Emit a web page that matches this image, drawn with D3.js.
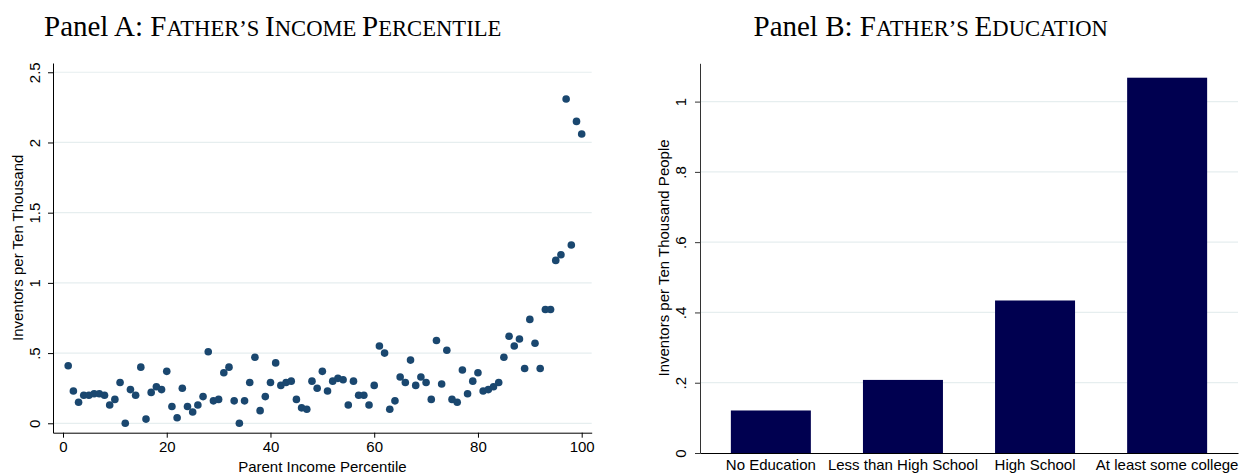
<!DOCTYPE html>
<html>
<head>
<meta charset="utf-8">
<script src="https://cdn.jsdelivr.net/npm/d3@7"></script>
<style>
  body { margin: 0; background: #fff; }
  text { font-family: "Liberation Sans", Arial, sans-serif; fill: #000; }
  .title { font-family: "Liberation Serif", "DejaVu Serif", serif; font-size: 29px; }
</style>
</head>
<body>
<div id="my_dataviz"></div>
<script>

// Panel A: inventors per ten thousand, by parent income percentile (1..100)
var percentiles = d3.range(1, 101);
var inventorRate = [
    0.41, 0.23, 0.15, 0.20, 0.20, 0.21, 0.21, 0.20, 0.13, 0.17,
    0.29, 0.00, 0.24, 0.20, 0.40, 0.03, 0.22, 0.26, 0.24, 0.37,
    0.12, 0.04, 0.25, 0.12, 0.08, 0.13, 0.19, 0.51, 0.16, 0.17,
    0.36, 0.40, 0.16, 0.00, 0.16, 0.29, 0.47, 0.09, 0.19, 0.29,
    0.43, 0.27, 0.29, 0.30, 0.17, 0.11, 0.10, 0.30, 0.25, 0.37,
    0.23, 0.30, 0.32, 0.31, 0.13, 0.30, 0.20, 0.20, 0.13, 0.27,
    0.55, 0.50, 0.10, 0.16, 0.33, 0.29, 0.45, 0.27, 0.33, 0.29,
    0.17, 0.59, 0.28, 0.52, 0.17, 0.15, 0.38, 0.21, 0.30, 0.36,
    0.23, 0.24, 0.26, 0.29, 0.47, 0.62, 0.55, 0.60, 0.39, 0.74,
    0.57, 0.39, 0.81, 0.81, 1.16, 1.20, 2.31, 1.27, 2.15, 2.06
];
var xTicksA = [0, 20, 40, 60, 80, 100];
var yTicksA = [0, 0.5, 1, 1.5, 2, 2.5];

// Panel B: inventors per ten thousand, by father's education
var eduCategories = ["No Education", "Less than High School", "High School", "At least some college"];
var eduRate = [0.121, 0.208, 0.434, 1.068];
var yTicksB = [0, 0.2, 0.4, 0.6, 0.8, 1];

// stata style numbers: .5 instead of 0.5
function stataFmt(d) {
    return d3.format("~g")(d).replace(/^0\./, ".");
}

// fake small caps: capitals full size, the rest upper-cased and shrunk
function smallCaps(textSel, str, size) {
    var runs = str.match(/[A-Z]+|[^A-Z]+/g);
    runs.forEach(function(r) {
        if (/[A-Z]/.test(r[0])) {
            textSel.append("tspan").style("font-size", size + "px").text(r);
        } else {
            textSel.append("tspan").style("font-size", (size * 0.78) + "px").text(r.toUpperCase());
        }
    });
}

var svg = d3.select("#my_dataviz")
    .append("svg")
        .attr("width", 1241)
        .attr("height", 475);

// ---------------- Panel A ----------------
var x = d3.scaleLinear()
    .domain([-1.93, 101.93])
    .range([53, 591.7]);
var y = d3.scaleLinear()
    .domain([-0.067, 2.566])
    .range([432.7, 63]);

// grid
svg.append("g")
    .selectAll("line")
    .data(yTicksA)
    .enter()
    .append("line")
        .attr("x1", 53).attr("x2", 591.7)
        .attr("y1", function(d) { return y(d); })
        .attr("y2", function(d) { return y(d); })
        .attr("stroke", "#e6eeef")
        .attr("stroke-width", 1.2);

var xAxisA = svg.append("g")
    .attr("transform", "translate(0,432.7)")
    .call(d3.axisBottom(x).tickValues(xTicksA).tickSize(5).tickSizeOuter(0).tickPadding(4).tickFormat(stataFmt));
xAxisA.selectAll("text").style("font-size", "15px").style("font-family", "Liberation Sans, Arial, sans-serif");

var yAxisA = svg.append("g")
    .attr("transform", "translate(53,0)")
    .call(d3.axisLeft(y).tickValues(yTicksA).tickSize(5).tickSizeOuter(0).tickFormat(stataFmt));
yAxisA.selectAll("text")
    .style("font-size", "15px")
    .style("font-family", "Liberation Sans, Arial, sans-serif")
    .attr("text-anchor", "middle")
    .attr("x", 0).attr("dy", 0)
    .attr("transform", "translate(-13,0) rotate(-90)");
svg.selectAll(".domain").attr("stroke", "#000");

// dots
svg.append("g")
    .selectAll("circle")
    .data(inventorRate)
    .enter()
    .append("circle")
        .attr("cx", function(d, i) { return x(percentiles[i]); })
        .attr("cy", function(d) { return y(d); })
        .attr("r", 3.8)
        .attr("fill", "#1a476f");

// axis labels
svg.append("text")
    .attr("x", 322.4)
    .attr("y", 471.5)
    .attr("text-anchor", "middle")
    .style("font-size", "15px")
    .text("Parent Income Percentile");

svg.append("text")
    .attr("transform", "translate(23," + y(1.25) + ") rotate(-90)")
    .attr("text-anchor", "middle")
    .style("font-size", "15px")
    .text("Inventors per Ten Thousand");

var tA = svg.append("text")
    .attr("class", "title")
    .attr("x", 44)
    .attr("y", 35.5);
tA.append("tspan").text("Panel A: ");
smallCaps(tA, "Father\u2019s Income Percentile", 29);

// ---------------- Panel B ----------------
var xb = d3.scaleBand()
    .domain(eduCategories)
    .range([700, 1238])
    .paddingInner(0.3944)
    .paddingOuter(0.2336);
var yb = d3.scaleLinear()
    .domain([0, 1.109])
    .range([453, 63.3]);

svg.append("g")
    .selectAll("line")
    .data(yTicksB.slice(1))
    .enter()
    .append("line")
        .attr("x1", 700).attr("x2", 1238)
        .attr("y1", function(d) { return yb(d); })
        .attr("y2", function(d) { return yb(d); })
        .attr("stroke", "#e6eeef")
        .attr("stroke-width", 1.2);

// bars
svg.append("g")
    .selectAll("rect")
    .data(eduRate)
    .enter()
    .append("rect")
        .attr("x", function(d, i) { return xb(eduCategories[i]); })
        .attr("width", xb.bandwidth())
        .attr("y", function(d) { return yb(d); })
        .attr("height", function(d) { return yb(0) - yb(d); })
        .attr("fill", "#000050");

var yAxisB = svg.append("g")
    .attr("transform", "translate(700,0)")
    .call(d3.axisLeft(yb).tickValues(yTicksB).tickSize(5).tickSizeOuter(0).tickFormat(stataFmt));
yAxisB.select(".domain").attr("stroke", "#333");
yAxisB.selectAll(".tick line").attr("stroke", "#333");
yAxisB.selectAll("text")
    .style("font-size", "15px")
    .style("font-family", "Liberation Sans, Arial, sans-serif")
    .attr("text-anchor", "middle")
    .attr("x", 0).attr("dy", 0)
    .attr("transform", "translate(-14.5,0) rotate(-90)");

var xAxisB = svg.append("g")
    .attr("transform", "translate(0,453)")
    .call(d3.axisBottom(xb).tickSize(0).tickSizeOuter(0).tickPadding(6));
xAxisB.select(".domain").attr("stroke", "#000").attr("stroke-width", 1.2);
xAxisB.selectAll("text").style("font-size", "15px").style("font-family", "Liberation Sans, Arial, sans-serif");

svg.append("text")
    .attr("transform", "translate(668.5," + yb(0.555) + ") rotate(-90)")
    .attr("text-anchor", "middle")
    .style("font-size", "15px")
    .text("Inventors per Ten Thousand People");

var tB = svg.append("text")
    .attr("class", "title")
    .attr("x", 753.5)
    .attr("y", 35.5);
tB.append("tspan").text("Panel B: ");
smallCaps(tB, "Father\u2019s Education", 29);

</script>
</body>
</html>
